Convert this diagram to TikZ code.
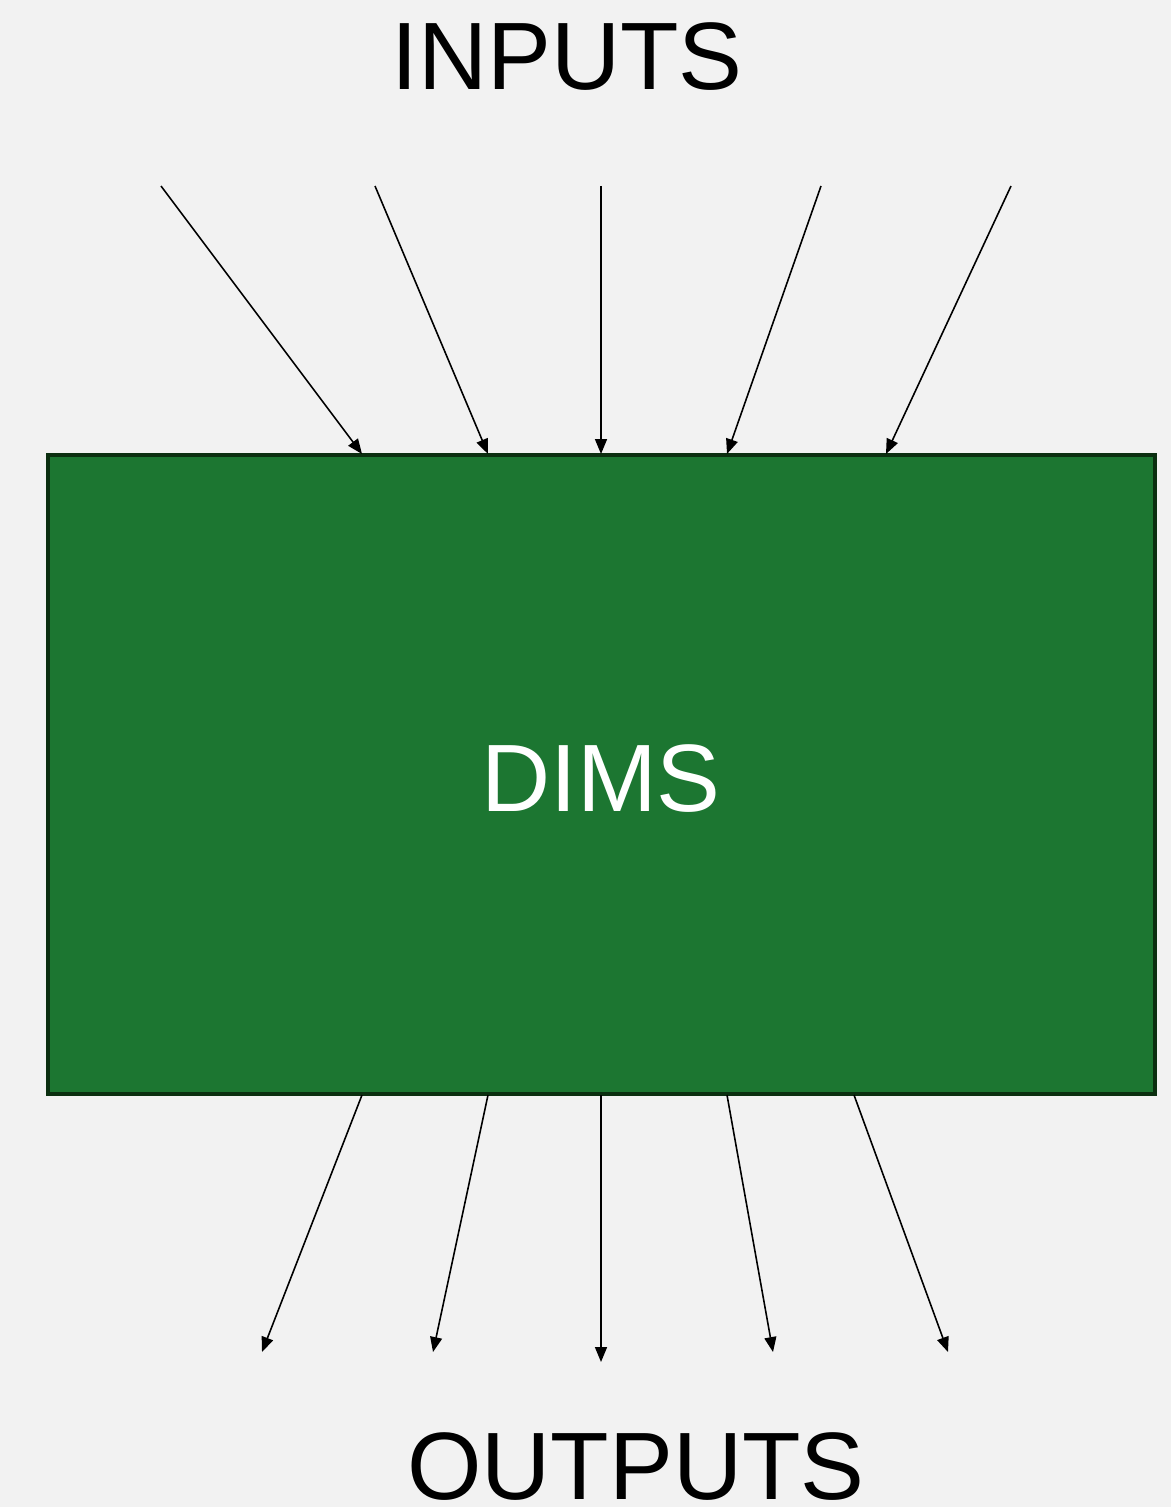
\documentclass[tikz,border=0pt]{standalone}
\usepackage{fontspec}
\setmainfont{Liberation Sans}
\usetikzlibrary{arrows.meta}
\definecolor{bg}{HTML}{F2F2F2}
\definecolor{boxfill}{HTML}{1C7631}
\definecolor{boxline}{HTML}{0B2F10}
\begin{document}
\begin{tikzpicture}[x=0.02cm,y=-0.02cm,
  flow/.style={line width=0.9pt,-{Triangle[length=8.5pt,width=6.8pt]}},
  label/.style={font=\fontsize{54.5}{60}\selectfont,anchor=base,inner sep=0pt},
  block/.style={draw=boxline,fill=boxfill,line width=2.5pt,inner sep=0pt,outer sep=0pt,
    minimum width=22.14cm,minimum height=12.78cm,text=white,
    font=\fontsize{54.5}{60}\selectfont}]
  % canvas
  \fill[bg] (0,0) rectangle (1171,1507);
  \useasboundingbox (0,0) rectangle (1171,1507);

  % central block
  \node[block] (dims) at (601.5,774.5) {};
  \node[label,text=white] (dimslabel) at (601,811) {DIMS};

  % captions
  \node[label] (inputs) at (567,90) {INPUTS};
  \node[label] (outputs) at (636,1499) {OUTPUTS};

  % input arrows: free tails above, heads on the top edge
  \foreach \n/\sx/\ex in {1/161/362, 2/375/488, 3/601/601, 4/821/727, 5/1011/886}{
    \coordinate (in\n) at (\sx,186);
    \coordinate (top\n) at (\ex,454);
    \draw[flow] (in\n) -- (top\n);
  }

  % output arrows: tails on the bottom edge, free heads below
  \foreach \n/\sx/\ex/\ey in {1/362/262/1352, 2/488/433/1352, 3/601/601/1362, 4/727/773/1352, 5/854/948/1352}{
    \coordinate (bot\n) at (\sx,1095);
    \coordinate (out\n) at (\ex,\ey);
    \draw[flow] (bot\n) -- (out\n);
  }
\end{tikzpicture}
\end{document}
